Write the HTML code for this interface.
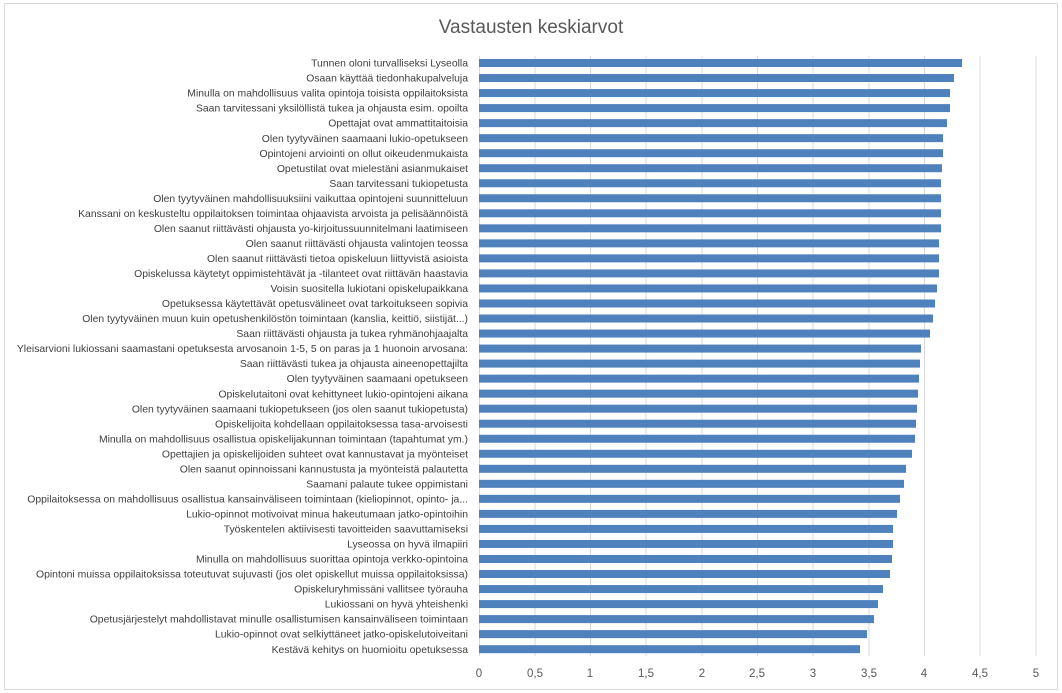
<!DOCTYPE html>
<html><head><meta charset="utf-8"><style>
body{margin:0;background:#fff;}
svg{display:block;font-family:"Liberation Sans",sans-serif;}
</style></head><body>
<svg width="1062" height="693" viewBox="0 0 1062 693">
<rect x="4.5" y="3.5" width="1053" height="686" fill="#fff" stroke="#d9d9d9"/>
<text x="531" y="33" font-size="19" fill="#595959" text-anchor="middle">Vastausten keskiarvot</text>
<g stroke="#d9d9d9" stroke-width="1">
<line x1="479.5" y1="56" x2="479.5" y2="656"/>
<line x1="535" y1="56" x2="535" y2="656"/>
<line x1="590.5" y1="56" x2="590.5" y2="656"/>
<line x1="646" y1="56" x2="646" y2="656"/>
<line x1="702" y1="56" x2="702" y2="656"/>
<line x1="757.5" y1="56" x2="757.5" y2="656"/>
<line x1="813" y1="56" x2="813" y2="656"/>
<line x1="869" y1="56" x2="869" y2="656"/>
<line x1="924.5" y1="56" x2="924.5" y2="656"/>
<line x1="980" y1="56" x2="980" y2="656"/>
<line x1="1036" y1="56" x2="1036" y2="656"/>
</g>
<g font-size="11.5" fill="#595959" text-anchor="middle">
<text x="479" y="677">0</text><text x="535" y="677">0,5</text><text x="590" y="677">1</text><text x="646" y="677">1,5</text><text x="702" y="677">2</text><text x="757" y="677">2,5</text><text x="813" y="677">3</text><text x="869" y="677">3,5</text><text x="924" y="677">4</text><text x="980" y="677">4,5</text><text x="1036" y="677">5</text>
</g>
<g id="bars" fill="#4f81bd"></g>
<g id="labels" font-size="10.4" fill="#404040" text-anchor="end"></g>
</svg>
<script>
var L=["Tunnen oloni turvalliseksi Lyseolla","Osaan käyttää tiedonhakupalveluja","Minulla on mahdollisuus valita opintoja toisista oppilaitoksista","Saan tarvitessani yksilöllistä tukea ja ohjausta esim. opoilta","Opettajat ovat ammattitaitoisia","Olen tyytyväinen saamaani lukio-opetukseen","Opintojeni arviointi on ollut oikeudenmukaista","Opetustilat ovat mielestäni asianmukaiset","Saan tarvitessani tukiopetusta","Olen tyytyväinen mahdollisuuksiini vaikuttaa opintojeni suunnitteluun","Kanssani on keskusteltu oppilaitoksen toimintaa ohjaavista arvoista ja pelisäännöistä","Olen saanut riittävästi ohjausta yo-kirjoitussuunnitelmani laatimiseen","Olen saanut riittävästi ohjausta valintojen teossa","Olen saanut riittävästi tietoa opiskeluun liittyvistä asioista","Opiskelussa käytetyt oppimistehtävät ja -tilanteet ovat riittävän haastavia","Voisin suositella lukiotani opiskelupaikkana","Opetuksessa käytettävät opetusvälineet ovat tarkoitukseen sopivia","Olen tyytyväinen muun kuin opetushenkilöstön toimintaan (kanslia, keittiö, siistijät...)","Saan riittävästi ohjausta ja tukea ryhmänohjaajalta","Yleisarvioni lukiossani saamastani opetuksesta arvosanoin 1-5, 5 on paras ja 1 huonoin arvosana:","Saan riittävästi tukea ja ohjausta aineenopettajilta","Olen tyytyväinen saamaani opetukseen","Opiskelutaitoni ovat kehittyneet lukio-opintojeni aikana","Olen tyytyväinen saamaani tukiopetukseen (jos olen saanut tukiopetusta)","Opiskelijoita kohdellaan oppilaitoksessa tasa-arvoisesti","Minulla on mahdollisuus osallistua opiskelijakunnan toimintaan (tapahtumat ym.)","Opettajien ja opiskelijoiden suhteet ovat kannustavat ja myönteiset","Olen saanut opinnoissani kannustusta ja myönteistä palautetta","Saamani palaute tukee oppimistani","Oppilaitoksessa on mahdollisuus osallistua kansainväliseen toimintaan (kieliopinnot, opinto- ja...","Lukio-opinnot motivoivat minua hakeutumaan jatko-opintoihin","Työskentelen aktiivisesti tavoitteiden saavuttamiseksi","Lyseossa on hyvä ilmapiiri","Minulla on mahdollisuus suorittaa opintoja verkko-opintoina","Opintoni muissa oppilaitoksissa toteutuvat sujuvasti (jos olet opiskellut muissa oppilaitoksissa)","Opiskeluryhmissäni vallitsee työrauha","Lukiossani on hyvä yhteishenki","Opetusjärjestelyt mahdollistavat minulle osallistumisen kansainväliseen toimintaan","Lukio-opinnot ovat selkiyttäneet jatko-opiskelutoiveitani","Kestävä kehitys on huomioitu opetuksessa"];
var E=[962,954,950,950,947,943,943,942,941,941,941,941,939,939,939,937,935,933,930,921,920,919,918,917,916,915,912,906,904,900,897,893,893,892,890,883,878,874,867,860];
var b="",t="";
for(var i=0;i<40;i++){var y=63+i*15.03;b+='<rect x="479" y="'+(y-4)+'" width="'+(E[i]-479)+'" height="8"/>';t+='<text x="468" y="'+(y+3.6)+'">'+L[i]+'</text>';}
document.getElementById("bars").innerHTML=b;document.getElementById("labels").innerHTML=t;
</script>
</body></html>
